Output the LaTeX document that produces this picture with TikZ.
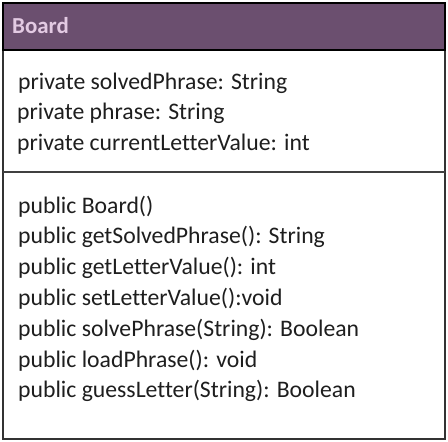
\documentclass[tikz,border=0pt]{standalone}
\usepackage{fontspec}
\setmainfont[Ligatures=NoCommon]{Carlito}
\usepackage{tikz}
\definecolor{headpurple}{HTML}{6B4F6F}
\definecolor{headtext}{HTML}{E3CAE3}
\definecolor{bodytext}{HTML}{1E1E1E}
\tikzset{
  member/.style={anchor=west,inner sep=0pt,font=\fontsize{23.8}{28}\selectfont,text=bodytext},
}

\begin{document}
\begin{tikzpicture}[x=1bp,y=-1bp]
\useasboundingbox (0,0) rectangle (448,442);
\fill[white] (0,0) rectangle (448,442);
\draw[line width=1.6bp,color=black!80] (3,3) rectangle (445,439);
\fill[headpurple] (3,3) rectangle (445,50);
\draw[line width=1.8bp,color=black] (3,3) rectangle (445,50);
\draw[line width=1.2bp,color=black!75] (3,172) -- (445,172);
\node[anchor=west,inner sep=0pt,font=\bfseries\fontsize{23}{26}\selectfont,text=headtext] (title) at (12,26) {Board};
\node[member] (attrA) at (18,83) {private solvedPhrase: String};
\node[member] (attrB) at (17,113) {private phrase: String};
\node[member] (attrC) at (17,144) {private currentLetterValue: int};
\node[member] (opA) at (18,207) {public Board()};
\node[member] (opB) at (18,237) {public getSolvedPhrase(): String};
\node[member] (opC) at (18,268) {public getLetterValue(): int};
\node[member] (opD) at (18,299) {public setLetterValue():void};
\node[member] (opE) at (18,330) {public solvePhrase(String): Boolean};
\node[member] (opF) at (18,361) {public loadPhrase(): void};
\node[member] (opG) at (18,391) {public guessLetter(String): Boolean};
\end{tikzpicture}
\end{document}
